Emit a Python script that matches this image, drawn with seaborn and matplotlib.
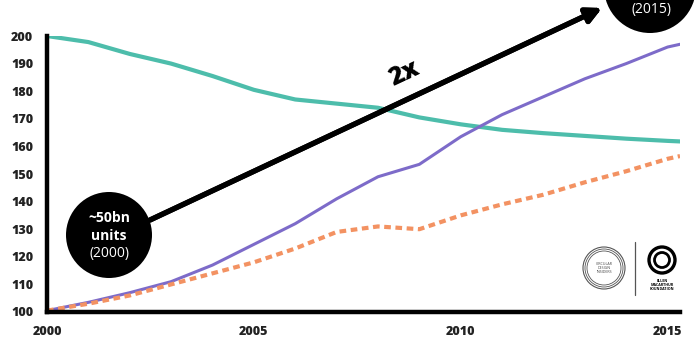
import matplotlib
matplotlib.use("Agg")
import matplotlib.pyplot as plt
from matplotlib.patches import Ellipse
import numpy as np
import pandas as pd
import seaborn as sns

# Indexed series (2000 = 100)
years = [2000, 2001, 2002, 2003, 2004, 2005, 2006, 2007, 2008,
         2009, 2010, 2011, 2012, 2013, 2014, 2015, 2015.3]
teal_values = [200, 197.8, 193.5, 190, 185.5, 180.5, 177, 175.5, 174,
               170.5, 168, 166, 164.8, 163.8, 162.8, 162, 161.8]
purple_values = [100.5, 103.5, 107, 111, 117, 124.5, 132, 141, 149,
                 153.5, 163.5, 171.5, 178, 184.5, 190, 196, 197]
orange_values = [100.5, 103, 106, 110, 114, 118, 123, 129, 131,
                 130, 135, 139, 142.5, 147, 151, 155.5, 156.5]

x_ticks = [2000, 2005, 2010, 2015]
y_ticks = [100, 110, 120, 130, 140, 150, 160, 170, 180, 190, 200]

start_label = ["~50bn", "units", "(2000)"]
end_label = "(2015)"
growth_label = "2x"

TEAL = "#4dbdab"
PURPLE = "#7d6bc9"
ORANGE = "#f39262"

sns.set_theme(style="white")
plt.rcParams["font.family"] = ["Open Sans", "DejaVu Sans"]

W, H = 700, 342
fig = plt.figure(figsize=(W / 100, H / 100), dpi=100)
ax = fig.add_axes([47 / W, 30 / H, 633 / W, 276 / H])

df = pd.DataFrame({"year": years, "teal": teal_values,
                   "purple": purple_values, "orange": orange_values})

sns.lineplot(data=df, x="year", y="teal", ax=ax, color=TEAL, lw=3.0)
sns.lineplot(data=df, x="year", y="purple", ax=ax, color=PURPLE, lw=2.2)
sns.lineplot(data=df, x="year", y="orange", ax=ax, color=ORANGE, lw=3.0,
             dashes=False, linestyle=(0, (1.6, 1.1)))

ax.set_xlim(2000, 2015.3)
ax.set_ylim(100, 200)
ax.set_xticks(x_ticks)
ax.set_yticks(y_ticks)
ax.set_xlabel("")
ax.set_ylabel("")
ax.tick_params(axis="both", length=0, labelsize=9, colors="#222222")
ax.tick_params(axis="y", pad=10)
ax.tick_params(axis="x", pad=10)
for lab in ax.get_xticklabels() + ax.get_yticklabels():
    lab.set_fontweight("heavy")
ax.grid(False)
for side in ["top", "right"]:
    ax.spines[side].set_visible(False)
for side in ["left", "bottom"]:
    ax.spines[side].set_color("black")
    ax.spines[side].set_linewidth(3.2)
    ax.spines[side].set_zorder(5)


def fig_circle(cx, cy, r, **kw):
    """Round circle given in figure pixels (origin bottom-left)."""
    e = Ellipse((cx / W, cy / H), 2 * r / W, 2 * r / H,
                transform=fig.transFigure, clip_on=False, **kw)
    fig.add_artist(e)
    return e


# Growth arrow between the two bubbles
fig.add_artist(plt.annotate(
    "", xy=(602 / W, 334 / H), xytext=(150 / W, 122 / H),
    xycoords="figure fraction", textcoords="figure fraction",
    arrowprops=dict(arrowstyle="-|>,head_length=0.75,head_width=0.38",
                    color="black", lw=3.8, shrinkA=0, shrinkB=0),
    annotation_clip=False))
fig.text(405 / W, 268 / H, growth_label, fontsize=18, fontweight="heavy",
         rotation=25, ha="center", va="center", color="black")

# Start bubble
fig_circle(109, 107, 43, facecolor="black", edgecolor="none", zorder=10)
fig.text(109 / W, 124 / H, start_label[0], color="white", fontsize=10,
         fontweight="bold", ha="center", va="center", zorder=11)
fig.text(109 / W, 106 / H, start_label[1], color="white", fontsize=10,
         fontweight="bold", ha="center", va="center", zorder=11)
fig.text(109 / W, 88 / H, start_label[2], color="white", fontsize=10,
         ha="center", va="center", zorder=11)

# End bubble, mostly above the top edge
fig_circle(650, 355, 46, facecolor="black", edgecolor="none", zorder=10)
fig.text(652 / W, 333 / H, end_label, color="white", fontsize=10,
         ha="center", va="center", zorder=11)

# Partner logos, bottom right
for r, lw in [(21, 0.8), (19, 0.6), (17, 0.6)]:
    fig_circle(604, 74, r, facecolor="none", edgecolor="#555555", lw=lw)
fig.text(604 / W, 74 / H, "CIRCULAR\nDESIGN\nINSIDERS", fontsize=2.6,
         ha="center", va="center", color="#444444", linespacing=1.1)
fig.add_artist(plt.Line2D([635 / W, 635 / W], [47 / H, 100 / H],
                          transform=fig.transFigure, color="#555555", lw=0.9))
fig_circle(662, 82, 13, facecolor="none", edgecolor="black", lw=2.4)
fig_circle(662, 82, 7.5, facecolor="none", edgecolor="black", lw=2.0)
fig.text(662 / W, 57 / H, "ELLEN\nMACARTHUR\nFOUNDATION", fontsize=2.6,
         fontweight="bold", ha="center", va="center", color="black",
         linespacing=1.1)

fig.savefig("out.png", dpi=100, facecolor="white")
